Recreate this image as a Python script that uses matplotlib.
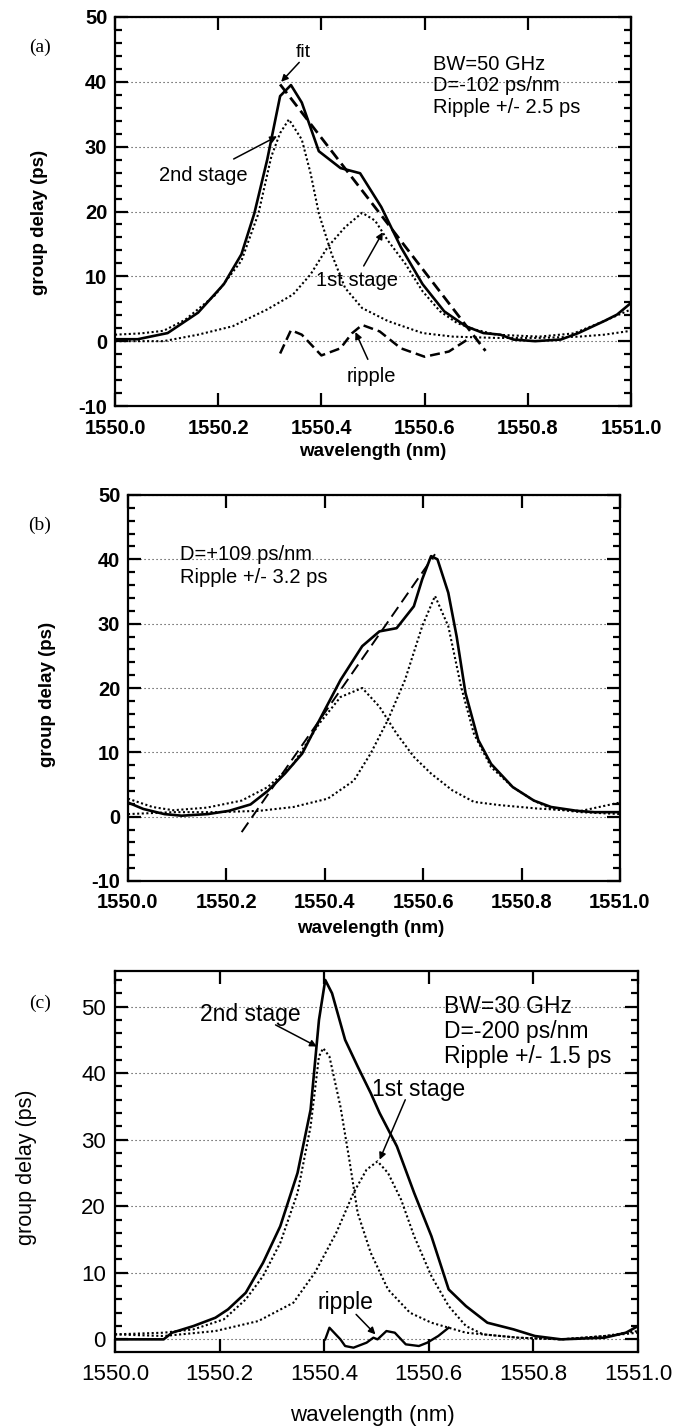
import matplotlib
matplotlib.use("Agg")
import matplotlib.pyplot as plt
from matplotlib.ticker import MultipleLocator

plt.rcParams['font.family'] = ['Liberation Sans', 'DejaVu Sans']

# ---------------- panel (a) data ----------------
a_tot_x = [1550.000, 1550.044, 1550.102, 1550.161, 1550.211, 1550.245, 1550.270, 1550.295,
           1550.320, 1550.341, 1550.362, 1550.395, 1550.437, 1550.475, 1550.516, 1550.554,
           1550.596, 1550.638, 1550.680, 1550.714, 1550.747, 1550.772, 1550.814, 1550.864,
           1550.898, 1550.948, 1550.973, 1551.000]
a_tot_y = [0.3, 0.3, 1.25, 4.4, 8.8, 13.4, 19.7, 28.0,
           37.8, 39.5, 36.8, 29.3, 26.7, 25.9, 20.7, 14.5,
           8.8, 4.6, 2.3, 1.25, 1.0, 0.25, 0.0, 0.25,
           1.25, 3.1, 4.1, 5.9]
a_fit_x = [1550.320, 1550.520, 1550.718]
a_fit_y = [39.6, 19.0, -1.5]
a_s2_x = [1550.000, 1550.050, 1550.094, 1550.136, 1550.194, 1550.245, 1550.278, 1550.303,
          1550.320, 1550.337, 1550.362, 1550.379, 1550.395, 1550.420, 1550.446, 1550.479,
          1550.529, 1550.596, 1550.655, 1550.739, 1550.822, 1550.900, 1550.948, 1551.000]
a_s2_y = [1.0, 1.2, 1.6, 3.3, 7.1, 12.4, 19.7, 28.5,
          32.1, 34.2, 31.1, 25.9, 19.7, 13.4, 8.2, 5.1,
          3.1, 1.25, 0.7, 0.5, 0.5, 0.7, 1.0, 1.6]
a_s1_x = [1550.000, 1550.094, 1550.161, 1550.228, 1550.295, 1550.345, 1550.379, 1550.412,
          1550.446, 1550.479, 1550.504, 1550.529, 1550.563, 1550.596, 1550.630, 1550.663,
          1550.697, 1550.739, 1550.822, 1550.889, 1550.948, 1551.000]
a_s1_y = [0.0, 0.0, 1.0, 2.3, 4.9, 7.2, 10.3, 14.5,
          17.6, 19.8, 18.6, 15.5, 11.9, 7.7, 4.6, 2.8,
          1.8, 1.0, 0.7, 1.2, 3.1, 4.9]
a_rip_x = [1550.320, 1550.341, 1550.362, 1550.400, 1550.437, 1550.459, 1550.479, 1550.513,
           1550.554, 1550.600, 1550.647, 1550.688]
a_rip_y = [-1.9, 1.7, 1.0, -2.2, -1.1, 1.2, 2.5, 1.5,
           -1.1, -2.4, -1.6, 0.5]

# ---------------- panel (b) data ----------------
b_tot_x = [1550.000, 1550.031, 1550.074, 1550.109, 1550.162, 1550.205, 1550.249, 1550.284,
           1550.319, 1550.354, 1550.389, 1550.432, 1550.476, 1550.511, 1550.546, 1550.581,
           1550.598, 1550.616, 1550.629, 1550.651, 1550.668, 1550.686, 1550.712, 1550.738,
           1550.782, 1550.825, 1550.860, 1550.913, 1550.948, 1551.000]
b_tot_y = [2.2, 1.2, 0.4, 0.15, 0.4, 0.9, 1.9, 4.0,
           6.7, 9.8, 15.0, 21.25, 26.5, 28.8, 29.3, 32.7,
           36.9, 40.5, 40.0, 34.8, 28.0, 19.2, 11.9, 8.2,
           4.6, 2.5, 1.5, 0.9, 0.7, 0.7]
b_fit_x = [1550.231, 1550.624]
b_fit_y = [-2.4, 40.8]
b_s1_x = [1550.000, 1550.050, 1550.092, 1550.160, 1550.231, 1550.284, 1550.336, 1550.389,
          1550.432, 1550.476, 1550.511, 1550.546, 1550.581, 1550.616, 1550.659, 1550.703,
          1550.755, 1550.834, 1550.921, 1551.000]
b_s1_y = [2.8, 1.5, 1.0, 1.4, 2.5, 4.6, 8.2, 14.5,
          18.6, 20.0, 17.1, 12.9, 9.3, 6.7, 4.1, 2.3,
          1.8, 1.25, 0.9, 2.2]
b_s2_x = [1550.000, 1550.092, 1550.179, 1550.266, 1550.336, 1550.406, 1550.459, 1550.493,
          1550.528, 1550.563, 1550.598, 1550.624, 1550.651, 1550.677, 1550.703, 1550.738,
          1550.782, 1550.825, 1550.860, 1550.921, 1551.000]
b_s2_y = [0.4, 0.7, 0.7, 0.9, 1.5, 2.8, 5.6, 9.8,
          15.0, 21.25, 29.6, 34.3, 29.6, 20.2, 12.9, 7.7,
          4.6, 2.5, 1.2, 0.7, 0.4]

# ---------------- panel (c) data ----------------
c_tot_x = [1550.000, 1550.093, 1550.109, 1550.150, 1550.192, 1550.216, 1550.250, 1550.283,
           1550.316, 1550.349, 1550.374, 1550.390, 1550.402, 1550.415, 1550.440, 1550.464,
           1550.489, 1550.506, 1550.539, 1550.572, 1550.605, 1550.638, 1550.671, 1550.712,
           1550.762, 1550.803, 1550.853, 1550.936, 1550.977, 1551.000]
c_tot_y = [0.0, 0.0, 1.0, 2.0, 3.25, 4.5, 7.0, 11.5,
           17.0, 25.0, 34.5, 48.0, 54.0, 52.0, 45.0, 41.0,
           37.0, 34.0, 29.0, 22.0, 15.5, 7.5, 5.0, 2.5,
           1.5, 0.5, 0.0, 0.25, 1.0, 2.0]
c_s2_x = [1550.000, 1550.093, 1550.150, 1550.208, 1550.250, 1550.283, 1550.316, 1550.349,
          1550.374, 1550.390, 1550.398, 1550.410, 1550.431, 1550.448, 1550.464, 1550.489,
          1550.522, 1550.564, 1550.605, 1550.671, 1550.771, 1550.853, 1550.936, 1551.000]
c_s2_y = [0.75, 1.0, 1.5, 3.0, 6.0, 9.5, 14.5, 22.0,
          32.0, 42.5, 43.75, 42.5, 35.0, 27.0, 19.0, 13.0,
          7.5, 4.0, 2.5, 1.0, 0.25, 0.0, 0.5, 1.0]
c_s1_x = [1550.000, 1550.093, 1550.192, 1550.274, 1550.341, 1550.382, 1550.423, 1550.456,
          1550.481, 1550.502, 1550.522, 1550.547, 1550.572, 1550.605, 1550.638, 1550.671,
          1550.704, 1550.771, 1550.853, 1550.936, 1551.000]
c_s1_y = [0.75, 0.5, 1.25, 2.75, 5.5, 10.0, 16.0, 22.0,
          25.5, 26.75, 25.0, 21.0, 15.5, 9.5, 5.0, 2.0,
          0.75, 0.25, 0.0, 0.5, 1.25]
c_rip_x = [1550.402, 1550.410, 1550.431, 1550.440, 1550.456, 1550.481, 1550.494, 1550.502,
           1550.519, 1550.535, 1550.556, 1550.581, 1550.597, 1550.618, 1550.638]
c_rip_y = [0.0, 1.75, 0.0, -1.0, -1.25, -0.5, 0.25, 0.0,
           1.25, 1.0, -0.75, -1.0, -0.5, 0.5, 1.75]

x_ticks = [1550.0, 1550.2, 1550.4, 1550.6, 1550.8, 1551.0]
x_ticklabels = ['1550.0', '1550.2', '1550.4', '1550.6', '1550.8', '1551.0']
ab_yticks = [-10, 0, 10, 20, 30, 40, 50]
c_yticks = [0, 10, 20, 30, 40, 50]

W, H = 676, 1427
fig = plt.figure(figsize=(W / 100, H / 100), dpi=100)

DOT = (0, (1.0, 1.2))
GRID = (0, (1.0, 2.6))


def style_axes(ax, yticks, ylim, fs, weight, ypad, xpad):
    ax.set_xlim(1550.0, 1551.0)
    ax.set_ylim(*ylim)
    ax.set_xticks(x_ticks)
    ax.set_xticklabels(x_ticklabels)
    ax.set_yticks(yticks)
    ax.set_yticklabels([str(v) for v in yticks])
    ax.yaxis.set_minor_locator(MultipleLocator(2))
    ax.tick_params(which='both', direction='in', top=True, right=True, width=1.6)
    ax.tick_params(which='major', length=9.5, labelsize=fs)
    ax.tick_params(axis='y', which='major', pad=ypad)
    ax.tick_params(axis='x', which='major', pad=xpad)
    ax.tick_params(which='minor', length=5)
    for lab in ax.get_xticklabels() + ax.get_yticklabels():
        lab.set_fontweight(weight)
    for s in ax.spines.values():
        s.set_linewidth(1.6)
    ax.grid(axis='y', which='major', color='k', linestyle=GRID, linewidth=0.8, alpha=0.8)
    ax.set_axisbelow(True)


def arrow(ax, xy_from, xy_to):
    ax.annotate('', xy=xy_to, xytext=xy_from,
                arrowprops=dict(arrowstyle='-|>', color='k', lw=1.1,
                                mutation_scale=10, shrinkA=0, shrinkB=0))


# ---------------- (a) ----------------
axA = fig.add_axes([115 / W, 1 - 406 / H, 516 / W, 389 / H])
style_axes(axA, ab_yticks, (-10, 50), 14.5, 'bold', 5.5, 9)
axA.plot(a_tot_x, a_tot_y, color='k', lw=1.9)
axA.plot(a_fit_x, a_fit_y, color='k', lw=2.0, linestyle=(0, (4, 2)))
axA.plot(a_s2_x, a_s2_y, color='k', lw=1.5, linestyle=DOT)
axA.plot(a_s1_x, a_s1_y, color='k', lw=1.5, linestyle=DOT)
axA.plot(a_rip_x, a_rip_y, color='k', lw=1.8, linestyle=(0, (4, 2)))
axA.set_xlabel('wavelength (nm)', fontsize=13.5, fontweight='bold')
axA.set_ylabel('group delay (ps)', fontsize=13.5, fontweight='bold')
axA.xaxis.set_label_coords(0.5, -0.095)
axA.yaxis.set_label_coords(-0.13, 0.473)
axA.text(1550.364, 44.6, 'fit', fontsize=14, ha='center', va='center')
arrow(axA, (1550.357, 43.0), (1550.322, 40.0))
axA.text(1550.616, 42.7, 'BW=50 GHz', fontsize=14.5, ha='left', va='center')
axA.text(1550.616, 39.4, 'D=-102 ps/nm', fontsize=14.5, ha='left', va='center')
axA.text(1550.616, 36.1, 'Ripple +/- 2.5 ps', fontsize=14.5, ha='left', va='center')
axA.text(1550.171, 25.5, '2nd stage', fontsize=14.5, ha='center', va='center')
arrow(axA, (1550.23, 28.1), (1550.314, 31.6))
axA.text(1550.469, 9.3, '1st stage', fontsize=14.5, ha='center', va='center')
arrow(axA, (1550.482, 11.6), (1550.519, 16.8))
axA.text(1550.497, -5.4, 'ripple', fontsize=14.5, ha='center', va='center')
arrow(axA, (1550.49, -2.8), (1550.466, 1.4))
fig.text(40 / W, 1 - 47 / H, '(a)', fontsize=14, family='Liberation Serif', ha='center', va='center')

# ---------------- (b) ----------------
axB = fig.add_axes([128 / W, 1 - 881 / H, 492 / W, 386 / H])
style_axes(axB, ab_yticks, (-10, 50), 14.5, 'bold', 5.5, 9)
axB.plot(b_tot_x, b_tot_y, color='k', lw=1.9)
axB.plot(b_fit_x, b_fit_y, color='k', lw=1.4, linestyle=(0, (6, 3)))
axB.plot(b_s1_x, b_s1_y, color='k', lw=1.5, linestyle=DOT)
axB.plot(b_s2_x, b_s2_y, color='k', lw=1.5, linestyle=DOT)
axB.set_xlabel('wavelength (nm)', fontsize=13.5, fontweight='bold')
axB.set_ylabel('group delay (ps)', fontsize=13.5, fontweight='bold')
axB.xaxis.set_label_coords(0.494, -0.101)
axB.yaxis.set_label_coords(-0.146, 0.484)
axB.text(1550.105, 40.8, 'D=+109 ps/nm', fontsize=14.5, ha='left', va='center')
axB.text(1550.105, 37.1, 'Ripple +/- 3.2 ps', fontsize=14.5, ha='left', va='center')
fig.text(40 / W, 1 - 525 / H, '(b)', fontsize=14, family='Liberation Serif', ha='center', va='center')

# ---------------- (c) ----------------
axC = fig.add_axes([115 / W, 1 - 1352 / H, 523 / W, 381 / H])
style_axes(axC, c_yticks, (-1.9, 55.35), 16, 'normal', 6.5, 9)
axC.plot(c_tot_x, c_tot_y, color='k', lw=1.9)
axC.plot(c_s2_x, c_s2_y, color='k', lw=1.5, linestyle=DOT)
axC.plot(c_s1_x, c_s1_y, color='k', lw=1.5, linestyle=DOT)
axC.plot(c_rip_x, c_rip_y, color='k', lw=1.7)
axC.set_xlabel('wavelength (nm)', fontsize=16)
axC.set_ylabel('group delay (ps)', fontsize=15.5)
axC.xaxis.set_label_coords(0.493, -0.139)
axC.yaxis.set_label_coords(-0.149, 0.486)
axC.text(1550.258, 48.75, '2nd stage', fontsize=16.5, ha='center', va='center')
arrow(axC, (1550.307, 47.25), (1550.386, 44.0))
axC.text(1550.63, 50.0, 'BW=30 GHz', fontsize=16.5, ha='left', va='center')
axC.text(1550.63, 46.25, 'D=-200 ps/nm', fontsize=16.5, ha='left', va='center')
axC.text(1550.63, 42.5, 'Ripple +/- 1.5 ps', fontsize=16.5, ha='left', va='center')
axC.text(1550.58, 37.5, '1st stage', fontsize=16.5, ha='center', va='center')
arrow(axC, (1550.555, 36.0), (1550.506, 27.0))
axC.text(1550.44, 5.5, 'ripple', fontsize=16.5, ha='center', va='center')
arrow(axC, (1550.461, 3.75), (1550.498, 0.75))
fig.text(40 / W, 1 - 1003 / H, '(c)', fontsize=14, family='Liberation Serif', ha='center', va='center')

fig.savefig('out.png', dpi=100)
